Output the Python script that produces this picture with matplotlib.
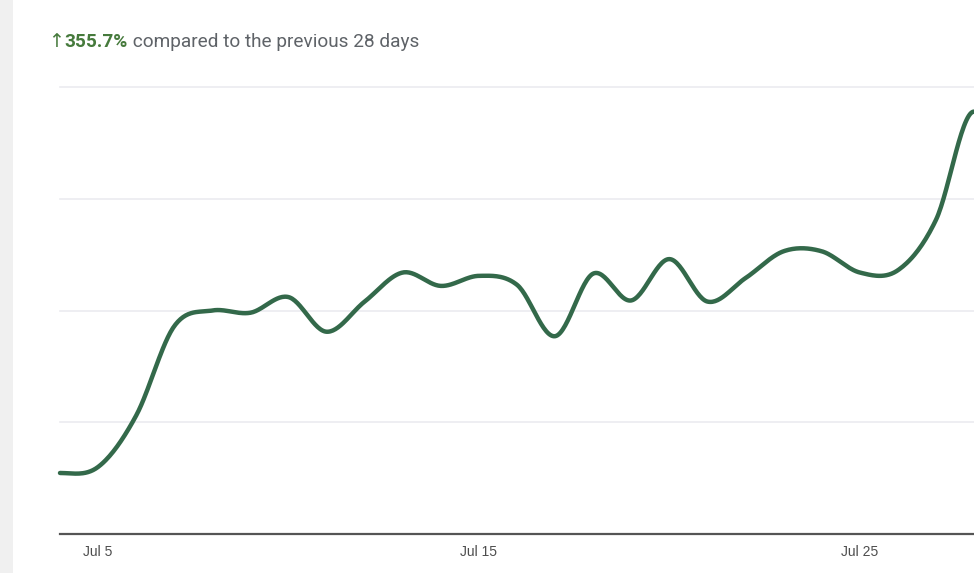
import matplotlib
matplotlib.use("Agg")
import matplotlib.pyplot as plt
import matplotlib.patches as mpatches
import numpy as np

# ── Data (y has no printed scale, grid every 5 units) ─
days = list(range(4, 29))          # Jul 4 .. Jul 28
values = [2.73, 3.0, 5.3, 9.3, 10.0, 9.9, 10.6, 9.05, 10.4, 11.7,
          11.1, 11.55, 11.15, 8.85, 11.65, 10.45, 12.3, 10.4, 11.45, 12.65,
          12.65, 11.7, 11.8, 14.05, 18.9]
tick_days = [5, 15, 25]
tick_labels = ["Jul 5", "Jul 15", "Jul 25"]
grid_values = [5, 10, 15, 20]
arrow_text = "\u2191"
change_text = "355.7%"
compare_text = " compared to the previous 28 days"

LINE_C = "#33694a"
GREEN_TXT = "#467a3c"
GREY_TXT = "#5f6368"
FONT = ["Roboto", "DejaVu Sans"]


def smooth_curve(x, y, n=30):
    """Catmull-Rom style cubic through the points, flat at both ends."""
    x = np.asarray(x, float)
    y = np.asarray(y, float)
    h = np.diff(x)
    m = np.zeros_like(y)
    m[1:-1] = (y[2:] - y[:-2]) / (x[2:] - x[:-2])
    xs, ys = [], []
    for i in range(len(h)):
        t = np.linspace(0, 1, n, endpoint=False)
        h00 = 2 * t**3 - 3 * t**2 + 1
        h10 = t**3 - 2 * t**2 + t
        h01 = -2 * t**3 + 3 * t**2
        h11 = t**3 - t**2
        xs.append(x[i] + t * h[i])
        ys.append(h00 * y[i] + h10 * h[i] * m[i] + h01 * y[i + 1] + h11 * h[i] * m[i + 1])
    xs.append([x[-1]])
    ys.append([y[-1]])
    return np.concatenate(xs), np.concatenate(ys)


fig = plt.figure(figsize=(9.74, 5.73), dpi=100)
fig.patch.set_facecolor("white")

# grey strip on the left edge of the screenshot
fig.patches.append(mpatches.Rectangle((0, 0), 13 / 974, 1, transform=fig.transFigure,
                                      facecolor="#f0f0f0", edgecolor="none", zorder=0))

ax = fig.add_axes([60 / 974, 39 / 573, 914 / 974, 447 / 573])
ax.set_xlim(days[0], days[-1])
ax.set_ylim(0, 20)

for g in grid_values:
    ax.axhline(g, color="#ebebf0", lw=1.2, zorder=1, clip_on=False)
ax.axhline(0, color="#555555", lw=1.6, zorder=3, clip_on=False)

cx, cy = smooth_curve(days, values)
ax.plot(cx, cy, color=LINE_C, lw=3.2, solid_capstyle="round", zorder=4, clip_on=False)

ax.set_xticks(tick_days)
ax.set_xticklabels(tick_labels, fontsize=10, color="#4d4d4d", family="Liberation Sans")
ax.tick_params(axis="x", length=0, pad=8)
ax.set_yticks([])
for sp in ax.spines.values():
    sp.set_visible(False)

# header line: arrow + green change figure, then grey comparison text
ty = 1 - 42 / 573
renderer = fig.canvas.get_renderer()
t0 = fig.text(48 / 974, ty, arrow_text, fontsize=13.7, color=GREEN_TXT,
              family=FONT, va="center", ha="left")
bb = t0.get_window_extent(renderer=renderer)
t1 = fig.text(bb.x1 / fig.bbox.width + 0.001, ty, change_text, fontsize=13.7, color=GREEN_TXT,
              fontweight="bold", family=FONT, va="center", ha="left")
bb = t1.get_window_extent(renderer=renderer)
fig.text(bb.x1 / fig.bbox.width, ty, compare_text, fontsize=13.7, color=GREY_TXT,
         family=FONT, va="center", ha="left")

fig.savefig("out.png", dpi=100)
